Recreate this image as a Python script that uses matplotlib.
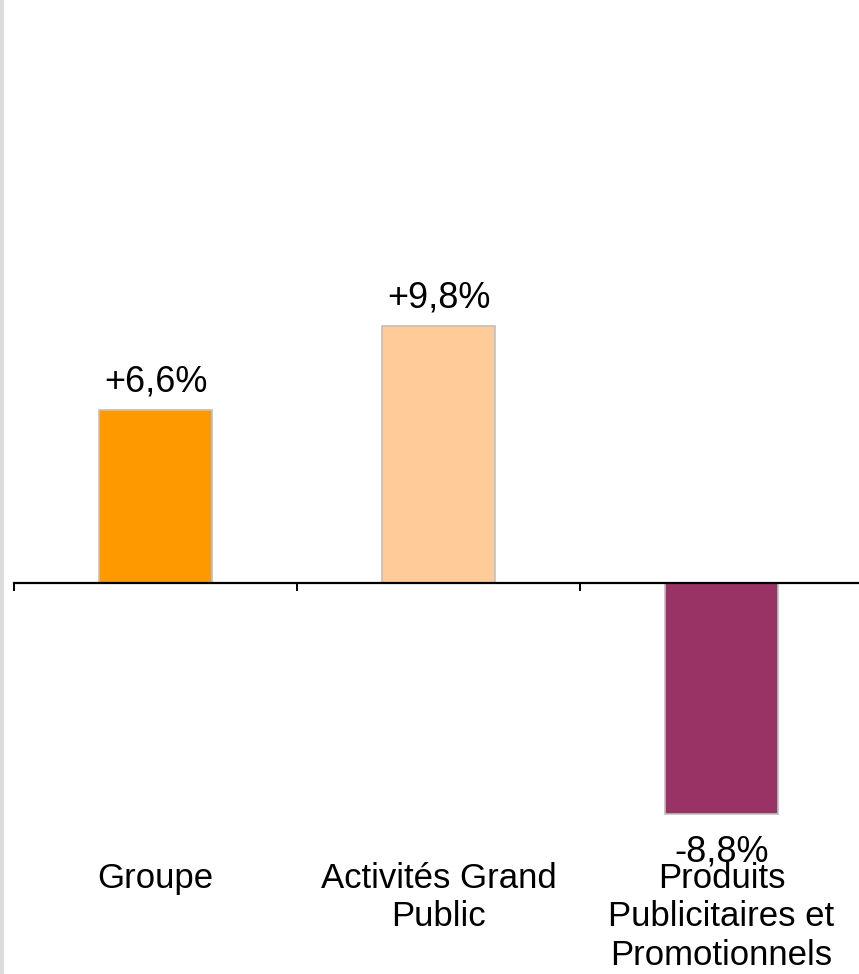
import matplotlib
matplotlib.use("Agg")
import matplotlib.pyplot as plt
from matplotlib.patches import Rectangle

categories = ["Groupe", "Activités Grand\nPublic", "Produits\nPublicitaires et\nPromotionnels"]
values = [6.6, 9.8, -8.8]
value_labels = ["+6,6%", "+9,8%", "-8,8%"]
colors = ["#FF9900", "#FFCC99", "#993366"]

W, H = 859, 974
fig = plt.figure(figsize=(W / 100, H / 100), dpi=100)
fig.patch.set_facecolor("white")

# thin grey strip along the left edge
fig.patches.append(Rectangle((0, 0), 4 / W, 1, transform=fig.transFigure,
                             facecolor="#dcdcdc", edgecolor="none"))

px_per_unit = 26.25
zero_px = 583
left_px, right_px = 14, 863
ax = fig.add_axes([left_px / W, 0, (right_px - left_px) / W, 1])
ax.set_xlim(-0.5, 2.5)
ax.set_ylim(-(H - zero_px) / px_per_unit, zero_px / px_per_unit)
ax.patch.set_alpha(0)

x = range(len(values))
ax.bar(x, values, width=0.40, color=colors, edgecolor="#c0c0c0", linewidth=1.2, zorder=2)

for s in ["top", "left", "right"]:
    ax.spines[s].set_visible(False)
ax.spines["bottom"].set_position(("data", 0))
ax.spines["bottom"].set_linewidth(1.6)
ax.spines["bottom"].set_zorder(3)
ax.set_yticks([])
ax.set_xticks([-0.5, 0.5, 1.5, 2.5])
ax.set_xticklabels([])
ax.tick_params(axis="x", direction="out", length=6, width=1.4, color="black")

font = "Liberation Sans"
fs_val = 26
fs_cat = 25
for i, (v, lab) in enumerate(zip(values, value_labels)):
    if v >= 0:
        ax.text(i, v + 18 / px_per_unit, lab, ha="center", va="baseline",
                fontsize=fs_val, family=font, color="black")
    else:
        ax.text(i, v - 47 / px_per_unit, lab, ha="center", va="baseline",
                fontsize=fs_val, family=font, color="black")

cat_y = (zero_px - 862) / px_per_unit
for i, c in enumerate(categories):
    ax.text(i, cat_y, c, ha="center", va="top", fontsize=fs_cat, family=font,
            color="black", linespacing=1.21)

fig.savefig("out.png", dpi=100)
